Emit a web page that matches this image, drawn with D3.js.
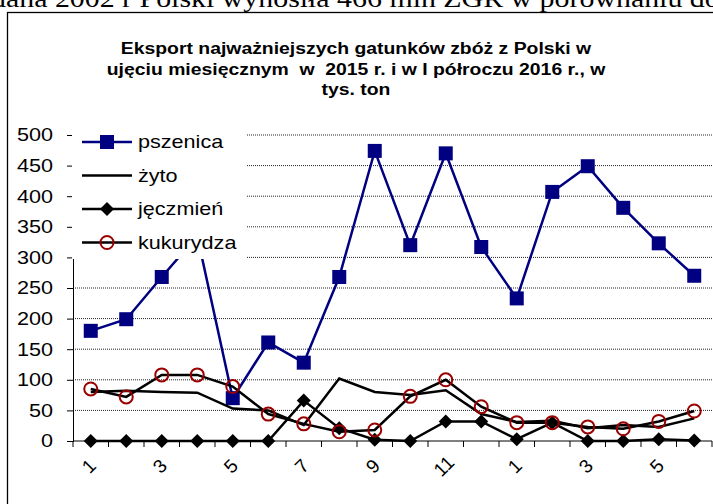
<!DOCTYPE html>
<html>
<head>
<meta charset="utf-8">
<script src="https://cdn.jsdelivr.net/npm/d3@7/dist/d3.min.js"></script>
<style>
  body { margin: 0; background: #fff; overflow: hidden; }
  text { font-family: Arial, "Liberation Sans", sans-serif; }
</style>
</head>
<body>
<svg id="chart"></svg>
<script>
// Monthly export of main cereals from Poland, thousand tonnes
// 2015 (months 1-12) and first half of 2016 (months 1-6)
const months = ["1","2","3","4","5","6","7","8","9","10","11","12","1","2","3","4","5","6"];
const pszenica  = [180, 199, 268, 335, 70, 161, 128, 268, 474, 320, 470, 317, 233, 407, 449, 381, 323, 270];
const zyto      = [80, 82, 80, 79, 53, 50, 26, 102, 80, 75, 83, 44, 31, 33, 21, 26, 23, 37];
const jeczmien  = [0, 0, 0, 0, 0, 0, 66, 21, 2, 0, 32, 32, 3, 30, 0, 0, 3, 1];
const kukurydza = [85, 72, 108, 108, 89, 44, 28, 15, 18, 73, 100, 56, 30, 30, 23, 20, 32, 49];
const yTicks = [0, 50, 100, 150, 200, 250, 300, 350, 400, 450, 500];
const titleLines = [
  "Eksport najważniejszych gatunków zbóż z Polski w",
  "ujęciu miesięcznym  w  2015 r. i w I półroczu 2016 r., w",
  "tys. ton"
];

const width = 713, height = 504;
const svg = d3.select("#chart").attr("width", width).attr("height", height);

// text in the source picture is a bit wider than normal Arial
const stretch = 1.2;

// cut-off line of the document text above the chart
svg.append("text")
  .attr("transform", `translate(-9,7) scale(1.15,1)`)
  .style("font-family", "'Liberation Serif', 'Times New Roman', serif")
  .style("font-size", "26px")
  .text("dana 2002 r Polski wynosiła 466 mln ZGR w porównaniu do");

// chart border
svg.append("rect")
  .attr("x", 7.5).attr("y", 12.5)
  .attr("width", 800).attr("height", 600)
  .attr("fill", "none").attr("stroke", "#000").attr("stroke-width", 1.3);

// title
titleLines.forEach((t, i) => {
  svg.append("text")
    .attr("transform", `translate(356,${54 + i * 20.5}) scale(1.14,1)`)
    .attr("text-anchor", "middle")
    .style("font-size", "17px").style("font-weight", "bold")
    .style("white-space", "pre")
    .text(t);
});

// scales
const x = d3.scaleBand()
  .domain(d3.range(months.length))
  .range([73, 712])
  .paddingInner(0).paddingOuter(0);
const cx = i => x(i) + x.bandwidth() / 2;

const y = d3.scaleLinear().domain([0, 500]).range([441, 135]);

// gridlines
svg.append("g").selectAll("line")
  .data(yTicks.filter(d => d > 0))
  .enter().append("line")
  .attr("x1", 73).attr("x2", 712)
  .attr("y1", d => y(d)).attr("y2", d => y(d))
  .attr("stroke", "#222").attr("stroke-width", 1)
  .attr("stroke-dasharray", "1,1");

// y axis
const yAxis = svg.append("g").attr("transform", "translate(73,0)")
  .call(d3.axisLeft(y).tickValues(yTicks).tickSize(6).tickFormat(""));
yAxis.select(".domain").attr("stroke", "#000");
yAxis.selectAll(".tick line").attr("stroke", "#000");

yTicks.forEach(v => {
  svg.append("text")
    .attr("transform", `translate(53,${y(v)}) scale(${stretch},1)`)
    .attr("text-anchor", "end").attr("dy", "0.36em")
    .style("font-size", "18px")
    .text(v);
});

// x axis, ticks between categories
const xAxis = svg.append("g").attr("transform", `translate(0,${y(0)})`);
xAxis.append("line")
  .attr("x1", 73).attr("x2", 712).attr("stroke", "#000");
xAxis.selectAll(".xt")
  .data(d3.range(months.length + 1))
  .enter().append("line")
  .attr("class", "xt")
  .attr("x1", d => d < months.length ? x(d) : 712)
  .attr("x2", d => d < months.length ? x(d) : 712)
  .attr("y1", 0).attr("y2", 6)
  .attr("stroke", "#000");

months.forEach((m, i) => {
  if (i % 2 !== 0) return;
  svg.append("text")
    .attr("transform", `translate(${cx(i) - 2},${466}) rotate(-45)`)
    .attr("text-anchor", "middle").attr("dy", "0.36em")
    .style("font-size", "19px")
    .text(m);
});

// series
const series = [
  { name: "pszenica", values: pszenica, color: "#000080", marker: "square" },
  { name: "żyto", values: zyto, color: "#000", marker: null },
  { name: "jęczmień", values: jeczmien, color: "#000", marker: "diamond" },
  { name: "kukurydza", values: kukurydza, color: "#000", marker: "circle" }
];

function drawMarker(g, type, color) {
  if (type === "square") {
    g.append("rect").attr("x", -7).attr("y", -7).attr("width", 14).attr("height", 14)
      .attr("fill", color);
  } else if (type === "diamond") {
    g.append("path").attr("d", "M0,-7L7,0L0,7L-7,0Z").attr("fill", "#000");
  } else if (type === "circle") {
    g.append("circle").attr("r", 6.5).attr("fill", "none")
      .attr("stroke", "#990000").attr("stroke-width", 2);
  }
}

const line = d3.line().x((d, i) => cx(i)).y(d => y(d));

series.forEach(s => {
  svg.append("path")
    .datum(s.values)
    .attr("d", line)
    .attr("fill", "none")
    .attr("stroke", s.color)
    .attr("stroke-width", 2.5)
    .attr("stroke-linejoin", "miter");
  if (s.marker) {
    s.values.forEach((v, i) => {
      const g = svg.append("g").attr("transform", `translate(${cx(i)},${y(v)})`);
      drawMarker(g, s.marker, s.color);
    });
  }
});

// legend with white background over the plot
const legend = svg.append("g");
legend.append("rect")
  .attr("x", 72).attr("y", 124).attr("width", 175).attr("height", 135)
  .attr("fill", "#fff");
series.forEach((s, i) => {
  const ly = 142 + i * 33.5;
  legend.append("line")
    .attr("x1", 82).attr("x2", 132).attr("y1", ly).attr("y2", ly)
    .attr("stroke", s.color).attr("stroke-width", 2.5);
  if (s.marker) {
    const g = legend.append("g").attr("transform", `translate(107,${ly})`);
    drawMarker(g, s.marker, s.color);
  }
  legend.append("text")
    .attr("transform", `translate(138,${ly}) scale(${stretch},1)`)
    .attr("dy", "0.36em")
    .style("font-size", "18px")
    .text(s.name);
});
</script>
</body>
</html>
